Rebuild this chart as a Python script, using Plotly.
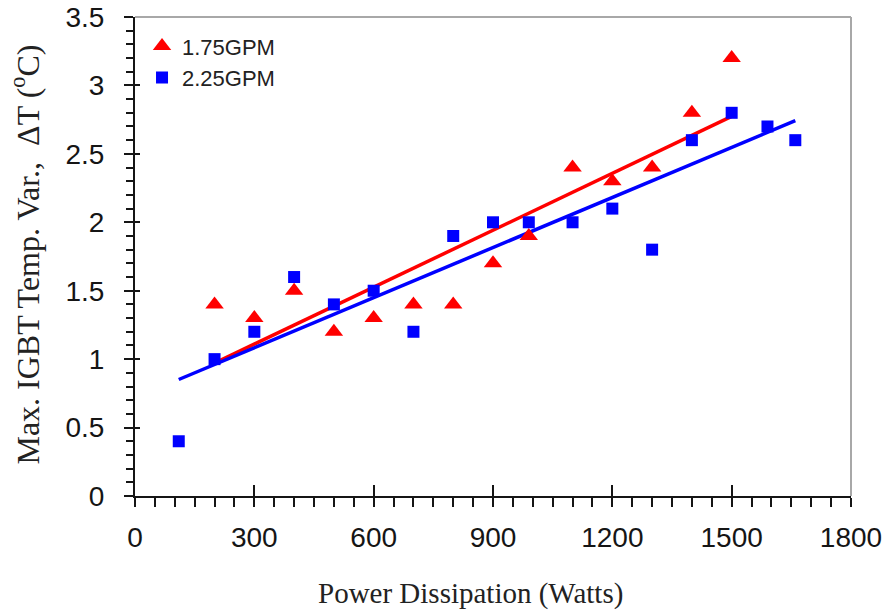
import numpy as np
import plotly.graph_objects as go

# ---- data ----
power_175 = [200, 300, 400, 500, 600, 700, 800, 900, 990, 1100, 1200, 1300, 1400, 1500]
dT_175 = [1.4, 1.3, 1.5, 1.2, 1.3, 1.4, 1.4, 1.7, 1.9, 2.4, 2.3, 2.4, 2.8, 3.2]

power_225 = [110, 200, 300, 400, 500, 600, 700, 800, 900, 990, 1100, 1200, 1300, 1400, 1500, 1590, 1660]
dT_225 = [0.4, 1.0, 1.2, 1.6, 1.4, 1.5, 1.2, 1.9, 2.0, 2.0, 2.0, 2.1, 1.8, 2.6, 2.8, 2.7, 2.6]

x_ticks = [0, 300, 600, 900, 1200, 1500, 1800]
y_ticks = [0, 0.5, 1, 1.5, 2, 2.5, 3, 3.5]

x_title = "Power Dissipation (Watts)"
y_title = "Max. IGBT Temp. Var.,  \u0394T (<sup>o</sup>C)"

RED = "#FF0000"
BLUE = "#0000FF"
INK = "#151515"
TICK_FONT = dict(family="Liberation Sans, Arial", size=28, color=INK)
SERIF = "Liberation Serif, Times New Roman, serif"


def fit_line(xs, ys):
    k, b = np.polyfit(xs, ys, 1)
    xl = np.array([min(xs), max(xs)], dtype=float)
    return xl, k * xl + b


fig = go.Figure()

for xs, ys, col in [(power_175, dT_175, RED), (power_225, dT_225, BLUE)]:
    xl, yl = fit_line(xs, ys)
    fig.add_trace(go.Scatter(x=xl, y=yl, mode="lines", line=dict(color=col, width=3.5),
                             showlegend=False, hoverinfo="skip"))

fig.add_trace(go.Scatter(x=power_175, y=dT_175, mode="markers", name="1.75GPM",
                         marker=dict(symbol="triangle-up", size=16, color=RED)))
fig.add_trace(go.Scatter(x=power_225, y=dT_225, mode="markers", name="2.25GPM",
                         marker=dict(symbol="square", size=12, color=BLUE)))
# helper trace so the overlay axes (inner half of crossing ticks) are drawn
fig.add_trace(go.Scatter(x=[0], y=[0], xaxis="x2", yaxis="y2", mode="markers",
                         marker=dict(opacity=0), showlegend=False, hoverinfo="skip"))

fig.update_layout(
    width=888, height=613,
    margin=dict(l=135, r=37, t=17, b=117, autoexpand=False),
    paper_bgcolor="white", plot_bgcolor="white",
    showlegend=True,
    legend=dict(x=0.0098, y=0.983, xanchor="left", yanchor="top",
                font=dict(family="Liberation Sans, Arial", size=22, color="#222222"),
                bgcolor="rgba(0,0,0,0)", tracegroupgap=0, itemwidth=30),
    xaxis=dict(range=[0, 1800], tickvals=x_ticks, ticktext=[str(v) for v in x_ticks],
               ticks="outside", ticklen=9, tickwidth=1.6, tickcolor=INK,
               minor=dict(dtick=50, ticks="outside", ticklen=9, tickwidth=1.6, tickcolor=INK),
               showline=True, linecolor=INK, linewidth=2, showgrid=False, zeroline=False,
               tickfont=TICK_FONT, ticklabelstandoff=6, automargin=False),
    yaxis=dict(range=[0, 3.5], tickvals=y_ticks, ticktext=[f"{v:g}" for v in y_ticks],
               ticks="outside", ticklen=9, tickwidth=1.6, tickcolor=INK,
               minor=dict(dtick=0.1, ticks="outside", ticklen=7, tickwidth=1.6, tickcolor=INK),
               showline=True, linecolor=INK, linewidth=2, showgrid=False, zeroline=False,
               tickfont=TICK_FONT, ticklabelstandoff=14, automargin=False),
    xaxis2=dict(overlaying="x", matches="x", anchor="y2", side="bottom", tickvals=x_ticks,
                ticks="inside", ticklen=11, tickwidth=1.6, tickcolor=INK,
                showticklabels=False, showline=False, showgrid=False, zeroline=False,
                automargin=False),
    yaxis2=dict(overlaying="y", matches="y", anchor="x2", side="left", tickvals=y_ticks,
                ticks="inside", ticklen=5, tickwidth=1.6, tickcolor=INK,
                showticklabels=False, showline=False, showgrid=False, zeroline=False,
                automargin=False),
    shapes=[
        dict(type="line", xref="paper", yref="paper", x0=0, x1=1, y0=1, y1=1,
             line=dict(color="#A8A8A8", width=2), layer="below"),
        dict(type="line", xref="paper", yref="paper", x0=1, x1=1, y0=0, y1=1,
             line=dict(color="#A8A8A8", width=2), layer="below"),
    ],
    annotations=[
        dict(text=x_title, xref="paper", yref="paper", x=0.468, y=-0.203,
             xanchor="center", yanchor="middle", showarrow=False,
             font=dict(family=SERIF, size=29, color="#222222")),
        dict(text=y_title, xref="paper", yref="paper", x=-0.153, y=0.505,
             xanchor="center", yanchor="middle", showarrow=False, textangle=-90,
             font=dict(family=SERIF, size=32, color="#222222")),
    ],
)

fig.write_html("out.html")
